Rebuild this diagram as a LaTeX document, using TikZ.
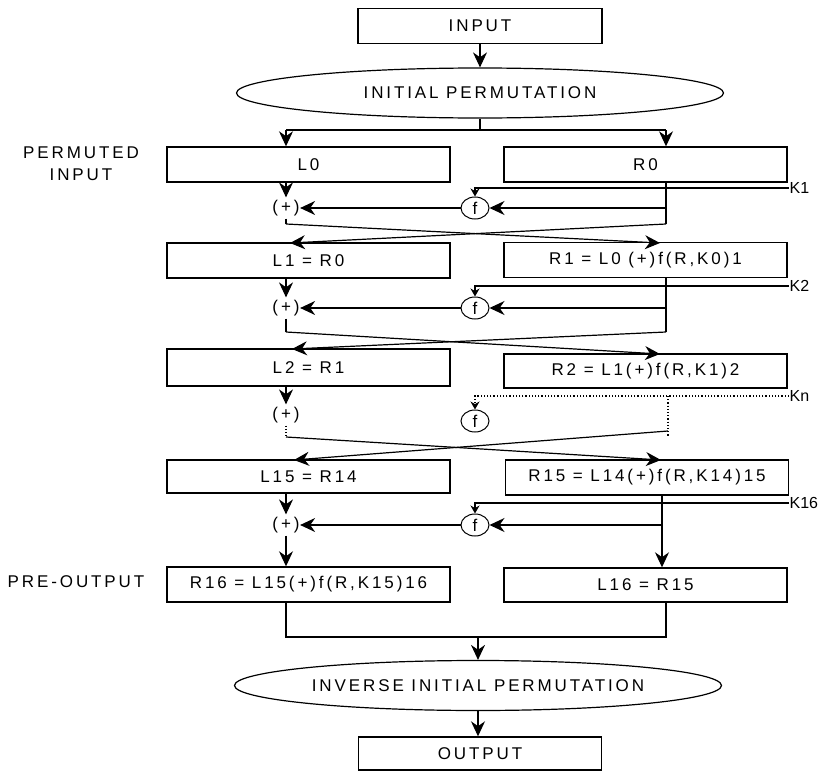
\documentclass[tikz,border=0pt]{standalone}
\usepackage{fontspec}
\setmainfont{Liberation Sans}[LetterSpace=17]
\newfontfamily\klabfont{Liberation Sans}
\usetikzlibrary{arrows.meta,shapes.geometric}

\begin{document}
\begin{tikzpicture}[x=1pt,y=-1pt,
  box/.style={draw,line width=1.4pt,minimum width=283pt,minimum height=35pt,inner sep=0pt},
  oval/.style={draw,ellipse,line width=1.2pt,minimum width=487pt,minimum height=50pt,inner sep=0pt},
  fcirc/.style={draw,ellipse,line width=1pt,minimum width=28pt,minimum height=22pt,inner sep=0pt},
  xor/.style={inner sep=0pt,minimum width=24pt,minimum height=20pt},
  lbl/.style={inner sep=0pt},
  klbl/.style={inner sep=0pt,anchor=west,font=\klabfont\fontsize{16}{19}\selectfont},
  arr/.style={-{Stealth[length=15pt,width=14pt]}},
  arrk/.style={-{Stealth[length=8pt,width=9pt]}},
  line width=1.2pt,
  font=\fontsize{17}{22}\selectfont]
\useasboundingbox (0,0) rectangle (823,771);
\node [box,minimum width=244pt] (input) at (480,26) {INPUT};
\node [oval] (ip) at (480,93) {INITIAL PERMUTATION};
\node [lbl,align=center] (pin) at (81,164) {PERMUTED\\INPUT};
\node [box] (l0) at (308.5,164.5) {L0};
\node [box] (r0) at (645.5,164.5) {R0};
\node [klbl] (k1) at (789,188) {K1};
\node [fcirc] (f1) at (475,208) {f};
\node [xor] (x1) at (286,208) {(+)};
\node [box] (l1) at (308.5,260.5) {L1 = R0};
\node [box] (r1) at (645.5,260) {R1 = L0 (+)f(R,K0)1};
\node [klbl] (k2) at (789,286) {K2};
\node [fcirc] (f2) at (475,308) {f};
\node [xor] (x2) at (286,308) {(+)};
\node [box,minimum height=37pt] (l2) at (308.5,367.5) {L2 = R1};
\node [box,minimum height=34pt] (r2) at (645.5,371) {R2 = L1(+)f(R,K1)2};
\node [klbl] (kn) at (789,396) {Kn};
\node [fcirc] (fn) at (475,421) {f};
\node [xor] (xn) at (286,415) {(+)};
\node [box,minimum height=33pt] (l15) at (308.5,476.5) {L15 = R14};
\node [box] (r15) at (647,477.5) {R15 = L14(+)f(R,K14)15};
\node [klbl] (k16) at (789,503) {K16};
\node [fcirc] (f16) at (475,525) {f};
\node [xor] (x16) at (286,525) {(+)};
\node [lbl] (pout) at (76,582) {PRE-OUTPUT};
\node [box] (r16) at (308.5,584.5) {R16 = L15(+)f(R,K15)16};
\node [box,minimum height=34pt] (l16) at (645.5,585) {L16 = R15};
\node [oval] (iip) at (478,685.5) {INVERSE INITIAL PERMUTATION};
\node [box,minimum width=243pt,minimum height=33pt] (output) at (480,753.5) {OUTPUT};
\coordinate (sl) at (286,130);
\coordinate (sr) at (666,130);
\coordinate (c1l) at (286,224);
\coordinate (c1r) at (666,224);
\coordinate (e1l) at (290,243);
\coordinate (e1r) at (660,243);
\coordinate (c2l) at (286,332);
\coordinate (c2r) at (666,332);
\coordinate (e2l) at (292,349);
\coordinate (e2r) at (660,354);
\coordinate (cnl) at (286,437);
\coordinate (cnr) at (668,431);
\coordinate (cnb) at (668,437);
\coordinate (enl) at (294,460);
\coordinate (enr) at (661,460);
\coordinate (c16r) at (662,525);
\coordinate (bl) at (286,637);
\coordinate (br) at (666,637);
\draw [arr] (input.south) -- (input.south |- ip.north);
\draw (ip.south) -- (ip.south |- sl);
\draw (sl) -- (sr);
\draw [arr] (sl) -- (l0.north -| sl);
\draw [arr] (sr) -- (r0.north -| sr);
\draw [arr] (l0.south -| x1) -- (x1.north);
\draw [arrk] (k1.west) -| (f1.north);
\draw (r0.south -| c1r) -- (c1r);
\draw [arr] (f1 -| c1r) -- (f1.east);
\draw [arr] (f1.west) -- (x1.east);
\draw (x1.south) -- (c1l);
\draw [arr] (c1l) -- (e1r);
\draw [arr] (c1r) -- (e1l);
\draw [arr] (l1.south -| x2) -- (x2.north);
\draw [arrk] (k2.west) -| (f2.north);
\draw (r1.south -| c2r) -- (c2r);
\draw [arr] (f2 -| c2r) -- (f2.east);
\draw [arr] (f2.west) -- (x2.east);
\draw (x2.south) -- (c2l);
\draw [arr] (c2l) -- (e2r);
\draw [arr] (c2r) -- (e2l);
\draw [arr] (l2.south -| xn) -- (xn.north);
\draw [arrk,dotted] (kn.west) -| (fn.north);
\draw [dotted] (kn.west -| cnb) -- (cnb);
\draw [dotted] (xn.south) -- (cnl);
\draw [arr] (cnl) -- (enr);
\draw [arr] (cnr) -- (enl);
\draw [arr] (l15.south -| x16) -- (x16.north);
\draw [arrk] (k16.west) -| (f16.north);
\draw [arr] (r15.south -| c16r) -- (l16.north -| c16r);
\draw [arr] (c16r) -- (f16.east);
\draw [arr] (f16.west) -- (x16.east);
\draw [arr] (x16.south) -- (r16.north -| x16);
\draw (r16.south -| bl) -- (bl) -- (br) -- (l16.south -| br);
\draw [arr] (iip.north |- bl) -- (iip.north);
\draw [arr] (iip.south) -- (iip.south |- output.north);
\end{tikzpicture}
\end{document}
